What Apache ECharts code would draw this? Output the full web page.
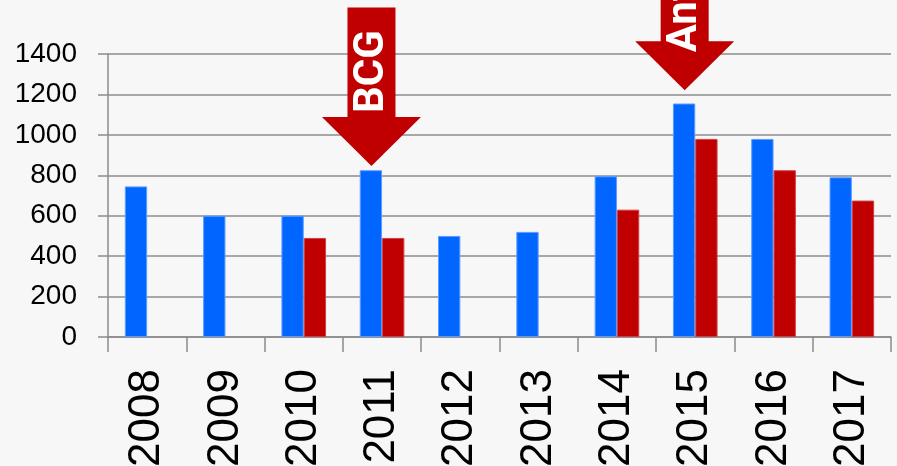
<!DOCTYPE html>
<html>
<head>
<meta charset="utf-8">
<script src="https://cdn.jsdelivr.net/npm/echarts@6/dist/echarts.min.js"></script>
<style>
html,body{margin:0;padding:0;background:#f7f7f7;}
#c{width:897px;height:466px;}
</style>
</head>
<body>
<div id="c"></div>
<script>
var years = ['2008','2009','2010','2011','2012','2013','2014','2015','2016','2017'];
var blueValues = [745, 600, 600, 825, 500, 520, 795, 1155, 980, 790];
var redValues = [null, null, 490, 490, null, null, 630, 980, 825, 675];
var yTicks = [0, 200, 400, 600, 800, 1000, 1200, 1400];
var arrowYears = ['2011', '2015'];
var arrowLabels = ['BCG', 'Antibiotics'];
var arrowTipValues = [846, 1221];
var arrowTopValues = [1630, 2000];

var arrowData = arrowYears.map(function(y, i){
  return [years.indexOf(y), arrowTipValues[i], arrowTopValues[i]];
});

var chart = echarts.init(document.getElementById('c'), null, {renderer:'canvas'});
var option = {
  backgroundColor: '#f7f7f7',
  animation: false,
  grid: {left: 108, right: 6, top: 54, bottom: 129, containLabel: false, outerBoundsMode: 'none'},
  xAxis: {
    type: 'category',
    data: years,
    boundaryGap: true,
    axisLine: {show: true, lineStyle: {color: '#8c8c8c', width: 1.5}},
    axisTick: {show: true, length: 15, lineStyle: {color: '#8c8c8c', width: 1.5}},
    axisLabel: {rotate: 90, margin: 32, fontSize: 44, color: '#000', fontFamily: 'Liberation Sans, Arial, sans-serif'},
    splitLine: {show: false}
  },
  yAxis: {
    type: 'value',
    min: yTicks[0],
    max: yTicks[yTicks.length - 1],
    interval: 200,
    axisLine: {show: true, lineStyle: {color: '#8c8c8c', width: 1.5}},
    axisTick: {show: true, length: 10, lineStyle: {color: '#8c8c8c', width: 1.5}},
    axisLabel: {margin: 31, fontSize: 28, color: '#000', fontFamily: 'Liberation Sans, Arial, sans-serif',
                formatter: function(v){ return String(v); }},
    splitLine: {show: true, lineStyle: {color: '#8c8c8c', width: 1.5}}
  },
  series: [
    {
      type: 'bar',
      data: blueValues,
      barGap: '0%',
      barCategoryGap: '43%',
      itemStyle: {color: '#0066ff', borderColor: '#5a9cff', borderWidth: 1}
    },
    {
      type: 'bar',
      data: redValues,
      itemStyle: {color: '#c00000', borderColor: '#d44040', borderWidth: 1}
    },
    {
      type: 'custom',
      clip: false,
      z: 10,
      data: arrowData,
      renderItem: function(params, api){
        var i = params.dataIndex;
        var tip = api.coord([api.value(0), api.value(1)]);
        var top = api.coord([api.value(0), api.value(2)]);
        var band = api.size([1, 0])[0];
        var cx = tip[0] - band * 0.135;
        var sw = 24, hw = 49.5, hl = 49;
        var hs = tip[1] - hl;
        var pts = [
          [cx - sw, top[1]], [cx + sw, top[1]], [cx + sw, hs], [cx + hw, hs],
          [cx, tip[1]], [cx - hw, hs], [cx - sw, hs]
        ];
        var textY = i === 0 ? hs - 4 : hs + 11;
        return {
          type: 'group',
          children: [
            {type: 'polygon', shape: {points: pts}, style: {fill: '#c00000', stroke: null}},
            {type: 'text', x: cx + 1, y: textY, rotation: Math.PI / 2,
             style: {text: arrowLabels[i], fill: '#ffffff', font: 'bold 42px Roboto, Liberation Sans, sans-serif',
                     align: 'left', verticalAlign: 'middle'}}
          ]
        };
      }
    }
  ]
};
chart.setOption(option);
</script>
</body>
</html>
